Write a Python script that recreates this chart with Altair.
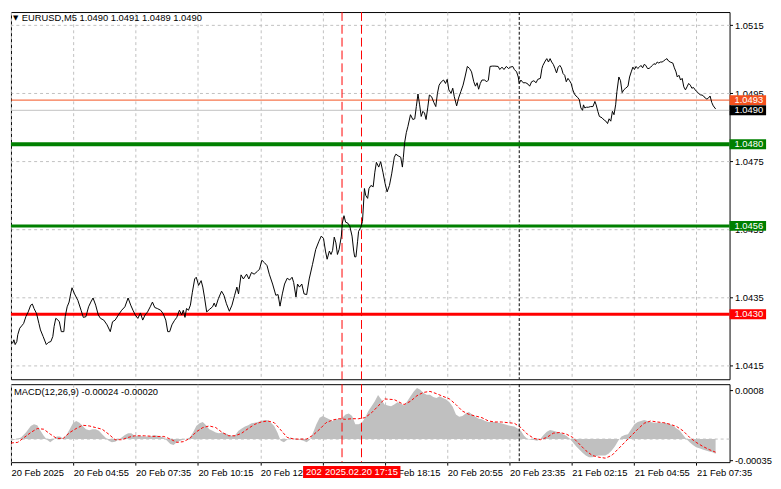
import altair as alt
import pandas as pd

FONT = "Liberation Sans"
FS = 9.5
GRID = "#c0c0c0"

# ---- price series: (bar index of 5-minute bars from 20 Feb 02:15, price) ----
price_pts = [
    (0, 1.04220), (0.85, 1.04215), (1.5, 1.04225), (2.15, 1.04211), (3, 1.04220), (3.5, 1.04240),
    (4.5, 1.04259), (5.5, 1.04266), (6.5, 1.04273), (7.65, 1.04293), (8.85, 1.04307), (10.15, 1.04327),
    (11, 1.04330), (11.85, 1.04317), (13.15, 1.04302), (14.35, 1.04273), (15.15, 1.04254), (16.5, 1.04235),
    (18.15, 1.04211), (19.15, 1.04217), (20.5, 1.04220), (21.5, 1.04235), (22.15, 1.04264), (23, 1.04288),
    (23.85, 1.04285), (24.85, 1.04278), (25.85, 1.04249), (27.15, 1.04249), (27.85, 1.04293), (28.85, 1.04322),
    (29.85, 1.04336), (30.65, 1.04360), (31.35, 1.04378), (32.65, 1.04360), (34.35, 1.04341), (36, 1.04312),
    (37.15, 1.04291), (38.5, 1.04293), (39.85, 1.04322), (41, 1.04336), (42.15, 1.04348), (43.5, 1.04327),
    (44.85, 1.04298), (46, 1.04288), (47.65, 1.04283), (49.35, 1.04269), (51, 1.04249), (52.15, 1.04278),
    (53.5, 1.04283), (55.15, 1.04298), (56.85, 1.04312), (58.5, 1.04322), (60.15, 1.04348), (61.5, 1.04327),
    (62.65, 1.04312), (63.85, 1.04298), (65.15, 1.04288), (66.5, 1.04304), (67.65, 1.04283), (68.85, 1.04298),
    (70.15, 1.04307), (71.5, 1.04322), (72.65, 1.04336), (73.85, 1.04320), (75.15, 1.04317), (76.85, 1.04312),
    (78.15, 1.04302), (79.5, 1.04283), (80.5, 1.04249), (81.5, 1.04249), (82.65, 1.04269), (83.85, 1.04281),
    (85.15, 1.04291), (86.5, 1.04312), (87.65, 1.04298), (88.5, 1.04312), (89.35, 1.04291), (90.15, 1.04317),
    (91.15, 1.04312), (92.15, 1.04327), (93.15, 1.04365),
    (94.35, 1.04404), (95.15, 1.04409), (96.35, 1.04385), (97.65, 1.04399), (98.5, 1.04380), (99.35, 1.04351),
    (100.5, 1.04307), (101.85, 1.04314), (103.5, 1.04322), (104.35, 1.04333), (105.15, 1.04322), (106.5, 1.04346),
    (108.15, 1.04368), (109.35, 1.04356), (110.65, 1.04331), (112.15, 1.04309), (113.5, 1.04327), (114.85, 1.04356),
    (116, 1.04380), (116.85, 1.04360), (118.15, 1.04416), (119.35, 1.04404), (121, 1.04418), (122.15, 1.04404),
    (123.5, 1.04423), (124.85, 1.04418), (126.5, 1.04426), (127.65, 1.04433), (128.85, 1.04459), (130.15, 1.04452),
    (131.5, 1.04443), (132.65, 1.04418), (134.35, 1.04389), (136, 1.04356), (137.15, 1.04358), (138.15, 1.04324),
    (139.35, 1.04360), (140.5, 1.04389), (141.85, 1.04406), (143.15, 1.04401), (144.35, 1.04409), (145.15, 1.04394),
    (146.35, 1.04351), (147.15, 1.04389), (148.15, 1.04380), (149.35, 1.04389), (150.5, 1.04360), (151.85, 1.04358),
    (153.15, 1.04404), (154.85, 1.04447), (156.5, 1.04491), (158.15, 1.04515), (159.35, 1.04530), (160.5, 1.04523),
    (161.5, 1.04486), (162.35, 1.04462), (163.5, 1.04486), (164.35, 1.04476), (165.15, 1.04488), (166, 1.04527),
    (166.85, 1.04510), (167.65, 1.04476), (168.5, 1.04491), (169.65, 1.04530), (170.15, 1.04568), (171, 1.04590),
    (171.85, 1.04571), (173, 1.04568), (174, 1.04559), (175.15, 1.04530), (176, 1.04486), (176.5, 1.04469),
    (177.15, 1.04469), (178, 1.04515), (178.5, 1.04544), (179.65, 1.04556), (180.5, 1.04573),
    (181.5, 1.04670), (182.15, 1.04650), (183.15, 1.04641), (183.85, 1.04670), (184.85, 1.04679), (186, 1.04675),
    (186.85, 1.04718), (187.65, 1.04747), (188.85, 1.04733), (189.85, 1.04749), (191, 1.04718), (192.15, 1.04684),
    (193.15, 1.04660), (194.35, 1.04679), (195.5, 1.04713), (196.85, 1.04762), (197.65, 1.04771), (198.85, 1.04766),
    (200.15, 1.04762), (201, 1.04733), (201.5, 1.04762), (202.15, 1.04805), (203, 1.04834), (203.85, 1.04853),
    (205.15, 1.04887), (206.35, 1.04873), (207.35, 1.04875), (208.15, 1.04911), (209, 1.04948), (209.85, 1.04916),
    (210.65, 1.04882), (211.5, 1.04897), (212.35, 1.04892), (213.15, 1.04873), (214, 1.04907), (214.85, 1.04945),
    (216, 1.04940), (217.15, 1.04923), (218.15, 1.04911), (219, 1.04950), (219.85, 1.04974), (221, 1.04984),
    (222.15, 1.04989), (223.15, 1.04979), (224, 1.04991), (224.85, 1.04960), (226, 1.04950), (226.85, 1.04965),
    (227.65, 1.04940), (228.85, 1.04913), (229.85, 1.04936), (231, 1.04955), (232.15, 1.04974), (233.15, 1.04998),
    (234.35, 1.05029), (235.5, 1.05023), (236.5, 1.05013), (237.65, 1.04984), (238.5, 1.04971), (239.35, 1.04981),
    (240.15, 1.04962), (241, 1.04979), (241.85, 1.04989), (243.15, 1.04989), (244.35, 1.04984), (245.15, 1.04989),
    (246, 1.05029), (247.15, 1.05030), (248.5, 1.05030), (250.15, 1.05029), (251, 1.05020), (252.15, 1.05027),
    (253.15, 1.05020), (254.35, 1.05029), (255.5, 1.05023), (256.5, 1.05027), (257.65, 1.05029), (258.5, 1.05020),
    (259.65, 1.05013), (260.5, 1.04998), (261, 1.04979), (261.85, 1.04989), (263, 1.04981), (264.35, 1.04981),
    (265.5, 1.04977), (266.35, 1.04971), (267.35, 1.04984), (268.5, 1.04987), (269.65, 1.04981), (270.5, 1.04991),
    (271.85, 1.04994), (272.65, 1.05023), (273.15, 1.05032),
    (274.35, 1.05045), (275.15, 1.05052), (276, 1.05042), (276.85, 1.05052), (277.65, 1.05042), (278.5, 1.05035),
    (279.35, 1.05023), (280.15, 1.05010), (281, 1.05027), (281.85, 1.05032), (282.65, 1.05025), (283.5, 1.05008),
    (284.35, 1.05003), (285.15, 1.04984), (286, 1.04994), (286.85, 1.04987), (287.65, 1.04979), (288.5, 1.04960),
    (289.35, 1.04948), (290.15, 1.04942), (291, 1.04938), (291.85, 1.04931), (292.65, 1.04907), (293.5, 1.04900),
    (294, 1.04916), (294.65, 1.04907), (295.5, 1.04909), (296.5, 1.04909), (297.65, 1.04911), (298.85, 1.04911),
    (299.85, 1.04926), (300.5, 1.04916), (301.35, 1.04897), (302.15, 1.04882), (303.5, 1.04878), (304.65, 1.04871),
    (305.5, 1.04868), (306.35, 1.04861), (307.15, 1.04875), (308, 1.04868), (308.85, 1.04897), (309.65, 1.04887),
    (310.5, 1.04916), (311.15, 1.04955), (312.15, 1.04998), (313, 1.04987), (313.85, 1.04952), (314.65, 1.04960),
    (315.65, 1.04965), (316.85, 1.04971), (317.65, 1.04998), (318.5, 1.05013), (319.35, 1.05027), (320.15, 1.05020),
    (321, 1.05029), (321.85, 1.05023), (322.65, 1.05027), (323.5, 1.05032), (324.35, 1.05025), (325.15, 1.05035),
    (326, 1.05032), (326.85, 1.05023), (327.65, 1.05023), (328.5, 1.05027), (329.35, 1.05032), (330.15, 1.05037),
    (331, 1.05035), (331.85, 1.05042), (332.65, 1.05039), (333.5, 1.05042), (334.35, 1.05042), (335.15, 1.05045),
    (336, 1.05049), (336.85, 1.05052), (337.65, 1.05045), (338.5, 1.05042), (339.85, 1.05039), (340.65, 1.05025),
    (341.5, 1.05013), (342.15, 1.04998), (343, 1.05003), (343.85, 1.04989), (344.65, 1.04994), (345.5, 1.04969),
    (346.35, 1.04960), (347.15, 1.04969), (348, 1.04979), (348.85, 1.04974), (349.65, 1.04965), (350.5, 1.04967),
    (351.35, 1.04960), (352.15, 1.04955), (353.15, 1.04950), (354, 1.04945), (354.85, 1.04945), (355.65, 1.04942),
    (356.5, 1.04936), (357.35, 1.04933), (358.15, 1.04936), (359, 1.04942), (359.85, 1.04923), (360.65, 1.04913),
    (361.85, 1.04904),
]

# ---- MACD histogram (bar index, value) ----
hist_pts = [
    (0.17, -0.000027), (5.17, 0.000027), (7.67, 0.000108), (10.17, 0.000216), (11.83, 0.000243), (13.5, 0.000227),
    (15.17, 0.000135), (16.83, 0.000054), (18.5, -0.000011), (20.17, -0.000054), (21.83, -0.000011), (23.5, 0.000043),
    (25.17, 0.000043), (26.83, 0.000011), (28.5, 0.000065), (30.17, 0.000162), (31.83, 0.00026), (33.5, 0.000298),
    (35.17, 0.00027), (36.83, 0.000216), (38.5, 0.000162), (40.17, 0.000146), (41.83, 0.000162), (43.5, 0.000162),
    (45.17, 0.000135), (46.83, 0.000081), (48.5, 0.000027), (50.17, -0.000027), (51.83, -0.000054), (53.5, -0.000043),
    (55.17, -0.000011), (56.83, 0.000027), (58.5, 0.000065), (60.17, 0.000097), (61.83, 0.000097), (63.5, 0.000054),
    (65.17, 0.000054), (68.5, 0.000043), (71.83, 0.000043), (73.5, 0.000065), (75.17, 0.000054), (76.83, 0.000043),
    (78.5, 0.000027), (80.17, -0.000027), (81.83, -0.000081), (83.5, -0.000097), (85.17, -0.000054), (86.83, -0.000027),
    (88.5, -0.000011), (91.83, 0.000027), (93.5, 0.000108), (95.17, 0.000216), (96.83, 0.00026), (98.5, 0.000281),
    (100.17, 0.000227), (101.83, 0.000162), (103.5, 0.000135), (105.17, 0.000108), (106.83, 0.000097), (108.5, 0.000108),
    (110.17, 0.000097), (111.83, 0.000065), (113.5, 0.000054), (115.17, 0.000065), (116.83, 0.000135), (118.5, 0.000173),
    (120.17, 0.000206), (121.83, 0.000227), (123.5, 0.00026), (125.17, 0.00027), (126.83, 0.000281), (128.5, 0.000298),
    (130.17, 0.000314), (131.83, 0.000308), (133.5, 0.00027), (135.17, 0.000216), (136.83, 0.000108), (138.5, -0.000027),
    (140.17, -0.000054), (141.83, -0.000011), (143.5, 0.000027), (145.17, 0.000011), (146.83, -0.000011), (148.5, -0.000011),
    (150.17, -0.000027), (151.83, -0.000054), (153.5, -0.000011), (155.17, 0.000108), (156.83, 0.000243), (158.5, 0.000352),
    (160.17, 0.000379), (161.83, 0.000352), (163.5, 0.000325), (165.17, 0.000298), (166.83, 0.000325), (168.5, 0.000325),
    (170.17, 0.000352), (171.83, 0.000406), (173.5, 0.000422), (175.17, 0.000379), (176.83, 0.000243), (178.5, 0.000243),
    (180.17, 0.00027), (181.83, 0.000352), (183.5, 0.00046), (185.17, 0.000541), (186.83, 0.000622), (188.5, 0.000725),
    (190.17, 0.000649), (191.83, 0.000568), (193.5, 0.000552), (195.17, 0.000541), (196.83, 0.000568), (198.5, 0.000606),
    (200.17, 0.000584), (201.83, 0.000552), (203.5, 0.000622), (205.17, 0.000703), (206.83, 0.000784), (208.5, 0.000839),
    (210.17, 0.000812), (211.83, 0.000757), (213.5, 0.00073), (215.17, 0.00073), (216.83, 0.000692), (218.5, 0.000676),
    (220.17, 0.000703), (221.83, 0.000676), (223.5, 0.000649), (225.17, 0.000606), (226.83, 0.00053), (228.5, 0.000406),
    (230.17, 0.000368), (231.83, 0.000379), (233.5, 0.000422), (235.17, 0.000444), (236.83, 0.000406), (238.5, 0.000368),
    (240.17, 0.000335), (241.83, 0.000325), (243.5, 0.000298), (245.17, 0.000281), (246.83, 0.000281), (248.5, 0.000281),
    (250.17, 0.00027), (251.83, 0.00026), (253.5, 0.000243), (255.17, 0.000227), (256.83, 0.000216), (258.5, 0.000206),
    (260.17, 0.000173), (261.83, 0.000135), (263.5, 0.000054), (265.17, 0.0), (266.83, -0.000011), (268.5, -0.000016),
    (270.17, -0.000027), (271.83, 0.0), (273.5, 0.000065), (275.17, 0.000119), (276.83, 0.000151), (278.5, 0.000135),
    (280.17, 0.000119), (281.83, 0.000108), (283.5, 0.000081), (285.17, 0.000054), (286.83, 0.000011), (288.5, -0.000054),
    (290.17, -0.000119), (291.83, -0.000173), (293.5, -0.000227), (295.17, -0.00027), (296.83, -0.000298), (298.5, -0.000298),
    (300.17, -0.000281), (301.83, -0.00027), (303.5, -0.00027), (305.17, -0.00027), (306.83, -0.000243), (308.5, -0.000189),
    (310.17, -0.000119), (311.83, -0.000027), (313.5, 0.000043), (315.17, 0.000065), (316.83, 0.000081), (318.5, 0.000162),
    (320.17, 0.000243), (321.83, 0.000281), (323.5, 0.000298), (325.17, 0.000314), (326.83, 0.000298), (328.5, 0.000281),
    (330.17, 0.00027), (331.83, 0.00027), (333.5, 0.00027), (335.17, 0.00027), (336.83, 0.00026), (338.5, 0.000243),
    (340.17, 0.000216), (341.83, 0.000173), (343.5, 0.000135), (345.17, 0.000065), (346.83, 0.0), (348.5, -0.000054),
    (350.17, -0.000097), (351.83, -0.000135), (353.5, -0.000151), (355.17, -0.000173), (356.83, -0.000189), (358.5, -0.000206),
    (360.17, -0.000216), (361.83, -0.00024),
]

# ---- MACD signal line (bar index, value) ----
signal_pts = [
    (0, -0.000065), (3.5, -0.000054), (6.83, 0.000027), (10.17, 0.000108), (13.5, 0.000173), (16.83, 0.000162),
    (20.17, 0.000081), (23.5, 0.000011), (26.83, 0.000011), (30.17, 0.000108), (33.5, 0.000173), (36.83, 0.000227),
    (40.17, 0.000216), (43.5, 0.000189), (46.83, 0.000162), (50.17, 0.000081), (53.5, -0.000011), (56.83, -0.000011),
    (60.17, 0.000027), (63.5, 0.000054), (68.5, 0.000054), (73.5, 0.000043), (78.5, 0.000043), (81.83, 0.0),
    (85.17, -0.000054), (88.5, -0.000043), (91.83, 0.000011), (95.17, 0.000119), (98.5, 0.000189), (101.83, 0.000216),
    (105.17, 0.000189), (108.5, 0.000108), (111.83, 0.000054), (115.17, 0.000054), (118.5, 0.000097), (121.83, 0.000173),
    (125.17, 0.000243), (128.5, 0.000281), (131.83, 0.000298), (135.17, 0.00027), (138.5, 0.000151), (141.83, 0.000027),
    (145.17, 0.0), (148.5, 0.0), (151.83, 0.0), (155.17, 0.000065), (158.5, 0.000162), (161.83, 0.00027),
    (165.17, 0.000314), (168.5, 0.000335), (171.83, 0.000325), (175.17, 0.000335), (178.5, 0.000335), (181.83, 0.000352),
    (185.17, 0.000433), (188.5, 0.000541), (191.83, 0.00066), (196.83, 0.000649), (201.83, 0.000568), (205.17, 0.000622),
    (208.5, 0.000714), (211.83, 0.000768), (215.17, 0.000784), (218.5, 0.000747), (221.83, 0.000703), (225.17, 0.00066),
    (228.5, 0.000568), (231.83, 0.00046), (235.17, 0.000406), (238.5, 0.000379), (241.83, 0.000352), (245.17, 0.000298),
    (248.5, 0.000281), (251.83, 0.000281), (255.17, 0.00027), (258.5, 0.00026), (261.83, 0.000189), (265.17, 0.000081),
    (268.5, 0.000011), (271.83, -0.000011), (275.17, 0.000027), (278.5, 0.000097), (281.83, 0.000108), (285.17, 0.000081),
    (288.5, 0.000027), (291.83, -0.000081), (295.17, -0.000189), (298.5, -0.00027), (301.83, -0.000298), (305.17, -0.000314),
    (308.5, -0.00027), (311.83, -0.000162), (315.17, -0.000054), (318.5, 0.000054), (321.83, 0.000162), (325.17, 0.00026),
    (328.5, 0.000298), (331.83, 0.000281), (335.17, 0.00027), (338.5, 0.000243), (341.83, 0.000206), (345.17, 0.000135),
    (348.5, 0.000027), (351.83, -0.000054), (355.17, -0.000119), (358.5, -0.000173), (361.83, -0.000216),
]

price_ticks = [1.0415, 1.0425, 1.0435, 1.0445, 1.0455, 1.0465, 1.0475, 1.0485, 1.0495, 1.0505, 1.0515]
tag_prices = [1.0493, 1.0490, 1.0480, 1.0456, 1.0430]
tag_colors = ["#f4511e", "#000000", "#008000", "#008000", "#ff0000"]
level_prices = [1.0480, 1.0456, 1.0430]
level_colors = ["#008000", "#008000", "#ff0000"]
level_widths = [4, 3, 3]
quote_prices = [1.0493, 1.0490]
quote_colors = ["#f4511e", "#c0c0c0"]
vline_t = [170, 180]
vline_labels = ["202", "2025.02.20 17:15"]          # the first one is mostly hidden behind the second
day_sep_t = [261]
time_tick_t = [0, 32, 64, 96, 128, 192, 224, 256, 288, 320, 352]
time_tick_labels = ["20 Feb 2025", "20 Feb 04:55", "20 Feb 07:35", "20 Feb 10:15", "20 Feb 12:55",
                    "20 Feb 18:15", "20 Feb 20:55", "20 Feb 23:35", "21 Feb 02:15",
                    "21 Feb 04:55", "21 Feb 07:35"]
macd_ticks = [0.0008, 0.0, -0.00035]
macd_tick_labels = ["0.0008", "0.00", "-0.00035"]
header = "EURUSD,M5  1.0490 1.0491 1.0489 1.0490"
macd_header = "MACD(12,26,9) -0.00024 -0.00020"

T_DOMAIN = [0, 369]
P_DOMAIN = [1.04109, 1.05189]
M_DOMAIN = [-0.00038, 0.000903]
W = 728
H_MAIN = 372
H_MACD = 79
grid_vals = list(range(0, 369, 16))

xs = alt.Scale(domain=T_DOMAIN, nice=False, zero=False)

# ---------------- main panel ----------------
price_df = pd.DataFrame(price_pts, columns=["t", "v"])
x_main_axis = alt.Axis(values=grid_vals, grid=True, gridColor=GRID, gridDash=[3, 3], gridWidth=1,
                       labels=False, ticks=False, domain=False, title=None)
y_main = alt.Y("v:Q", title=None,
               scale=alt.Scale(domain=P_DOMAIN, nice=False, zero=False),
               axis=alt.Axis(orient="right", values=price_ticks, format=".4f", grid=True, gridColor=GRID,
                             gridDash=[3, 3], ticks=True, tickSize=3, tickColor="black", domain=False,
                             labelPadding=2, labelFont=FONT, labelFontSize=FS, labelColor="black", title=None))

vl_df = pd.DataFrame({"t": vline_t})
day_df = pd.DataFrame({"t": day_sep_t})

vlines_main = alt.Chart(vl_df).mark_rule(color="#ff0000", strokeDash=[9, 4], strokeWidth=1).encode(
    x=alt.X("t:Q", scale=xs, title=None))
day_main = alt.Chart(day_df).mark_rule(color="black", strokeDash=[3, 2], strokeWidth=1).encode(
    x=alt.X("t:Q", scale=xs, title=None))

lev_df = pd.DataFrame({"v": level_prices, "c": level_colors, "w": level_widths})
lev_rules = alt.Chart(lev_df).mark_rule().encode(
    y=alt.Y("v:Q", title=None),
    color=alt.Color("c:N", scale=None),
    strokeWidth=alt.StrokeWidth("w:Q", scale=None))

q_df = pd.DataFrame({"v": quote_prices, "c": quote_colors})
q_rules = alt.Chart(q_df).mark_rule(strokeWidth=1).encode(
    y=alt.Y("v:Q", title=None), color=alt.Color("c:N", scale=None))

price_line = alt.Chart(price_df).mark_line(color="black", strokeWidth=1, clip=True).encode(
    x=alt.X("t:Q", scale=xs, axis=x_main_axis, title=None), y=y_main)

tag_df = pd.DataFrame({"v": tag_prices, "c": tag_colors, "s": [f"{p:.4f}" for p in tag_prices]})
tag_box = alt.Chart(tag_df).mark_rule(strokeWidth=10).encode(
    y=alt.Y("v:Q", title=None), x=alt.value(W), x2=alt.value(W + 37), color=alt.Color("c:N", scale=None))
tag_txt = alt.Chart(tag_df).mark_text(align="left", baseline="middle", color="white", font=FONT,
                                      fontSize=FS).encode(
    y=alt.Y("v:Q", title=None), x=alt.value(W + 5), text="s:N")

hdr_df = pd.DataFrame({"s": [header]})
hdr = alt.Chart(hdr_df).mark_text(align="left", baseline="middle", font=FONT, fontSize=FS,
                                  color="black").encode(x=alt.value(11), y=alt.value(6), text="s:N")
tri = alt.Chart(pd.DataFrame({"s": ["\u25bc"]})).mark_text(align="left", baseline="middle", font="DejaVu Sans",
                                                           fontSize=7, color="black").encode(
    x=alt.value(2), y=alt.value(6), text="s:N")

main = alt.layer(vlines_main, day_main, lev_rules, q_rules, price_line, tag_box, tag_txt, hdr, tri).properties(
    width=W, height=H_MAIN)

# ---------------- MACD panel ----------------
x_label_expr = "".join(f"datum.value == {t} ? '{s}' : " for t, s in zip(time_tick_t, time_tick_labels)) + "''"
m_label_expr = "".join(f"datum.value == {t} ? '{s}' : " for t, s in zip(macd_ticks, macd_tick_labels)) + "''"

x_macd_axis = alt.Axis(values=grid_vals, grid=True, gridColor=GRID, gridDash=[3, 3], gridWidth=1,
                       labelExpr=x_label_expr, labelAlign="left", labelBaseline="middle", labelPadding=8,
                       tickSize=3,
                       tickColor={"condition": {"test": "datum.value % 32 == 0", "value": "black"},
                                  "value": "transparent"},
                       domain=False, labelFont=FONT, labelFontSize=FS, labelColor="black",
                       labelOverlap=False, labelFlush=False, title=None)
y_macd = alt.Y("m:Q", title=None,
               scale=alt.Scale(domain=M_DOMAIN, nice=False, zero=False),
               axis=alt.Axis(orient="right", values=macd_ticks, labelExpr=m_label_expr, grid=False, ticks=True,
                             tickSize=3, tickColor="black", domain=False, labelPadding=2, labelFont=FONT,
                             labelFontSize=FS, labelColor="black", title=None))

hist_df = pd.DataFrame(hist_pts, columns=["t", "m"])
sig_df = pd.DataFrame(signal_pts, columns=["t", "m"])

zero_rule = alt.Chart(pd.DataFrame({"m": [0.0]})).mark_rule(color=GRID, strokeDash=[3, 3]).encode(
    y=alt.Y("m:Q", title=None))
hist = alt.Chart(hist_df).mark_area(color="#c0c0c0", clip=True, interpolate="linear").encode(
    x=alt.X("t:Q", scale=xs, axis=x_macd_axis, title=None), y=y_macd, y2=alt.datum(0))
sig = alt.Chart(sig_df).mark_line(color="#ff0000", strokeDash=[3, 2], strokeWidth=1, clip=True).encode(
    x=alt.X("t:Q", title=None), y=alt.Y("m:Q", title=None))
vlines_macd = alt.Chart(vl_df).mark_rule(color="#ff0000", strokeDash=[9, 4], strokeWidth=1).encode(
    x=alt.X("t:Q", title=None))
day_macd = alt.Chart(day_df).mark_rule(color="black", strokeDash=[3, 2], strokeWidth=1).encode(
    x=alt.X("t:Q", title=None))

hl_layers = []
for i, (t, s) in enumerate(zip(vline_t, vline_labels)):
    d = pd.DataFrame({"t": [t], "a": [t - 20], "b": [t + 20], "s": [s]})
    hl_layers.append(alt.Chart(d).mark_rect(color="#ff0000").encode(
        x=alt.X("a:Q", title=None), x2="b:Q", y=alt.value(H_MACD + 4), y2=alt.value(H_MACD + 16)))
    if i == 0:
        txt = alt.Chart(d).mark_text(color="white", align="left", baseline="middle", font=FONT,
                                     fontSize=FS).encode(x=alt.X("a:Q", title=None), xOffset=alt.value(3),
                                                         y=alt.value(H_MACD + 10.5), text="s:N")
    else:
        txt = alt.Chart(d).mark_text(color="white", align="center", baseline="middle", font=FONT,
                                     fontSize=FS).encode(x=alt.X("t:Q", title=None),
                                                         y=alt.value(H_MACD + 10.5), text="s:N")
    hl_layers.append(txt)

mhdr = alt.Chart(pd.DataFrame({"s": [macd_header]})).mark_text(align="left", baseline="middle", font=FONT,
                                                              fontSize=FS, color="black").encode(
    x=alt.value(3), y=alt.value(8), text="s:N")

macd = alt.layer(zero_rule, hist, sig, vlines_macd, day_macd, *hl_layers, mhdr).properties(
    width=W, height=H_MACD)

chart = alt.vconcat(main, macd, spacing=3).properties(
    padding=0,
    background="white",
).configure_view(stroke="black", strokeWidth=1)

chart.save("out.html", embed_options={"renderer": "svg", "actions": False})
